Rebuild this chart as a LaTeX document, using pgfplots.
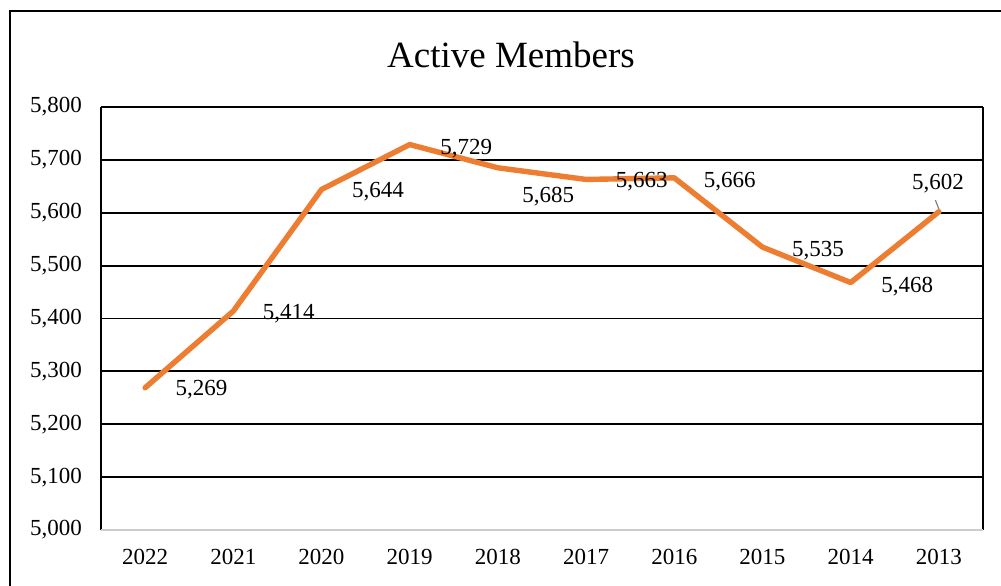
\documentclass[border=0pt]{standalone}
\usepackage{fontspec}
\setmainfont{Liberation Serif}
\usepackage{pgfplots}
\pgfplotsset{compat=1.18}
\definecolor{exorange}{HTML}{ED7D31}

\begin{document}
\begin{tikzpicture}
% page = 1001x585 px at 0.5pt per px, axis box lower-left at px (101,530)
\clip (-50.5pt,-27.5pt) rectangle (450pt,265pt);
\draw[line width=1.3pt] (-45.5pt,-60pt) rectangle (480pt,259.5pt);
\node[font=\fontsize{18.5}{20}\selectfont] at (205pt,237.5pt) {Active Members};
\begin{axis}[
    at={(0pt,0pt)}, anchor=south west,
    scale only axis,
    width=441pt, height=211.5pt,
    xmin=-0.5, xmax=9.5,
    ymin=5000, ymax=5800,
    ytick={5000,5100,...,5800},
    xtick={0,...,9},
    xticklabels={2022,2021,2020,2019,2018,2017,2016,2015,2014,2013},
    axis line style={draw=none},
    ymajorgrids, major grid style={black, line width=0.9pt},
    major tick length=0pt,
    tick label style={font=\fontsize{11.5}{13}\selectfont},
    yticklabel style={xshift=-6pt},
    xticklabel style={yshift=-6pt},
    /pgf/number format/.cd, 1000 sep={,}, assume math mode=true,
    clip=false,
]
\draw[black, line width=0.9pt] (rel axis cs:0,0) -- (rel axis cs:0,1);
\draw[black, line width=0.9pt] (rel axis cs:1,0) -- (rel axis cs:1,1);
\draw[gray!40, line width=0.7pt] (rel axis cs:0,0) -- (rel axis cs:1,0);
\addplot[exorange, line width=2.7pt, line join=round, line cap=round] coordinates {
    (0,5269) (1,5414) (2,5644) (3,5729) (4,5685)
    (5,5663) (6,5666) (7,5535) (8,5468) (9,5602)
};
\draw[gray, line width=0.6pt] (axis cs:8.96,5624) -- (axis cs:9.0,5607);
\begin{scope}[every node/.style={font=\fontsize{11.5}{13}\selectfont, inner sep=0pt}]
\node at (axis cs:0.64,5265) {5,269};
\node at (axis cs:1.63,5410) {5,414};
\node at (axis cs:2.64,5639) {5,644};
\node at (axis cs:3.64,5722) {5,729};
\node at (axis cs:4.57,5631) {5,685};
\node at (axis cs:5.63,5658) {5,663};
\node at (axis cs:6.63,5658) {5,666};
\node at (axis cs:7.63,5529) {5,535};
\node at (axis cs:8.64,5461) {5,468};
\node at (axis cs:8.99,5656) {5,602};
\end{scope}
\end{axis}
\end{tikzpicture}
\end{document}
